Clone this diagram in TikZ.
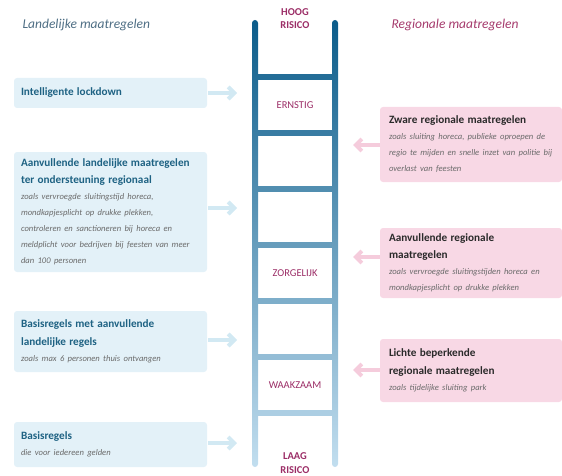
\documentclass[tikz,border=0pt]{standalone}
\usepackage{fontspec}
\setmainfont{Carlito}
\usepackage{tikz}
\usetikzlibrary{arrows.meta,positioning}

\definecolor{railtop}{HTML}{0B5C8A}
\definecolor{railbot}{HTML}{C2DEEF}
\definecolor{landfill}{HTML}{E3F1F8}
\definecolor{landpijl}{HTML}{D2E9F3}
\definecolor{landkop}{HTML}{1E6283}
\definecolor{regiofill}{HTML}{F8D8E5}
\definecolor{regiopijl}{HTML}{F5CCDC}
\definecolor{regiokop}{HTML}{2A2A2A}
\definecolor{grijs}{HTML}{6A6A6A}
\definecolor{niveau}{HTML}{9B2D66}
\definecolor{landhead}{HTML}{4E6E84}
\definecolor{regiohead}{HTML}{A53A6C}

\newcommand{\kop}[1]{{\fontsize{11.2}{17.5}\selectfont\bfseries #1\par}}
\newcommand{\uitleg}[1]{{\fontsize{8.6}{16}\selectfont\itshape\color{grijs}#1\par}}

\tikzset{
  landbox/.style={fill=landfill, rounded corners=3pt, minimum width=193pt,
    text width=179pt, inner xsep=7pt, inner ysep=1pt, align=left, text=landkop},
  regiobox/.style={fill=regiofill, rounded corners=3pt, minimum width=182pt,
    text width=164pt, inner xsep=9pt, inner ysep=1pt, align=left, text=regiokop},
  landarrow/.style={draw=landpijl, line width=4pt, shorten <=1pt,
    -{Straight Barb[length=6pt,width=12pt]}},
  regioarrow/.style={draw=regiopijl, line width=4pt,
    -{Straight Barb[length=6pt,width=12pt]}},
  niveau/.style={text=niveau, font=\fontsize{10.5}{14}\selectfont, align=center},
  kolomkop/.style={anchor=west, font=\fontsize{13.5}{15}\selectfont\itshape}
}

\begin{document}
\begin{tikzpicture}[x=1pt, y=-1pt]
  \useasboundingbox (0,0) rectangle (562,476);

  % ladder
  \foreach \y/\p in {77/87, 133/75, 189/62, 245/50, 301/37, 357/25, 413/12}
    \draw[railtop!\p!railbot, line width=5.5pt] (255,\y) -- (335,\y);
  \shade[top color=railtop, bottom color=railbot, rounded corners=3pt] (252,20) rectangle (258,467);
  \shade[top color=railtop, bottom color=railbot, rounded corners=3pt] (332,20) rectangle (338,467);

  \node[niveau, font=\fontsize{10.5}{13.5}\selectfont\bfseries] (HR) at (295,18.5) {HOOG\\RISICO};
  \node[niveau] (ER) at (295,105) {ERNSTIG};
  \node[niveau] (ZO) at (295,273) {ZORGELIJK};
  \node[niveau] (WA) at (295,385) {WAAKZAAM};
  \node[niveau, font=\fontsize{10.5}{13.5}\selectfont\bfseries] (LR) at (295,463) {LAAG\\RISICO};

  % kolomkoppen
  \node[kolomkop, text=landhead] (LM) at (19,25) {Landelijke maatregelen};
  \node[kolomkop, text=regiohead] (RM) at (388,25) {Regionale maatregelen};

  % landelijk
  \node[landbox, minimum height=30pt] (IL) at (110.5,93) {\kop{Intelligente lockdown}};
  \node[landbox, minimum height=120pt] (AL) at (110.5,212)
    {\kop{Aanvullende landelijke maatregelen\\ter ondersteuning regionaal}%
     \uitleg{zoals vervroegde sluitingstijd horeca,\\mondkapjesplicht op drukke plekken,\\controleren en sanctioneren bij horeca en\\meldplicht voor bedrijven bij feesten van meer\\dan 100 personen}};
  \node[landbox, minimum height=61pt] (BA) at (110.5,341.5)
    {\kop{Basisregels met aanvullende\\landelijke regels}\uitleg{zoals max 6 personen thuis ontvangen}};
  \node[landbox, minimum height=45pt] (BR) at (110.5,444.5)
    {\kop{Basisregels}\uitleg{die voor iedereen gelden}};

  % regionaal
  \node[regiobox, minimum height=75pt] (ZR) at (471,144.5)
    {\kop{Zware regionale maatregelen}%
     \uitleg{zoals sluiting horeca, publieke oproepen de\\regio te mijden en snelle inzet van politie bij\\overlast van feesten}};
  \node[regiobox, minimum height=70pt] (AR) at (471,263)
    {\kop{Aanvullende regionale\\maatregelen}%
     \uitleg{zoals vervroegde sluitingstijden horeca en\\mondkapjesplicht op drukke plekken}};
  \node[regiobox, minimum height=63pt] (LB) at (471,370.5)
    {\kop{Lichte beperkende\\regionale maatregelen}\uitleg{zoals tijdelijke sluiting park}};

  % pijlen
  \coordinate (tIL) at (237,93);
  \coordinate (tAL) at (237,208);
  \coordinate (tBA) at (237,340);
  \coordinate (tBR) at (237,443);
  \coordinate (tZR) at (353,145);
  \coordinate (tAR) at (353,257);
  \coordinate (tLB) at (353,370);

  \path (IL.east |- tIL) edge[landarrow] (tIL)
        (AL.east |- tAL) edge[landarrow] (tAL)
        (BA.east |- tBA) edge[landarrow] (tBA)
        (BR.east |- tBR) edge[landarrow] (tBR)
        (ZR.west |- tZR) edge[regioarrow] (tZR)
        (AR.west |- tAR) edge[regioarrow] (tAR)
        (LB.west |- tLB) edge[regioarrow] (tLB);
\end{tikzpicture}
\end{document}
